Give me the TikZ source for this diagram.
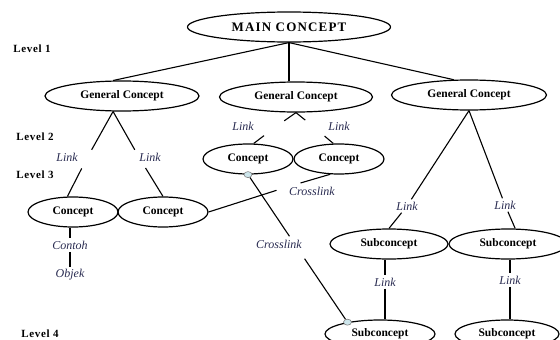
\documentclass[tikz,border=0pt]{standalone}
\usepackage{fontspec}
\setmainfont{Liberation Serif}
\usetikzlibrary{shapes.geometric}
\definecolor{linkblue}{RGB}{40,42,80}
\definecolor{dotblue}{RGB}{205,230,236}
\begin{document}
\begin{tikzpicture}[x=1pt,y=-1pt,line width=1.1pt,
  concept/.style={ellipse,draw,line width=1.2pt,inner sep=0pt,minimum height=30pt,
    font=\fontsize{11.5}{12}\selectfont\bfseries},
  lnk/.style={font=\fontsize{12}{12}\selectfont\itshape,text=linkblue,inner sep=2pt},
  gap/.style={circle,inner sep=0pt,minimum size=20pt},
  lvl/.style={font=\fontsize{11}{11}\selectfont\bfseries\addfontfeature{LetterSpace=6}},
  xdot/.style={ellipse,draw=gray,fill=dotblue,line width=.6pt,inner sep=0pt,
    minimum width=8pt,minimum height=6pt}]
\useasboundingbox (0,0) rectangle (560,340);

\node[concept,minimum width=203pt,
  font=\fontsize{13}{13}\selectfont\bfseries\addfontfeature{LetterSpace=9}] (main) at (289,27) {MAIN CONCEPT};
\node[concept,minimum width=154pt] (gc1) at (122,96) {General Concept};
\node[concept,minimum width=153pt] (gc2) at (296,97) {General Concept};
\node[concept,minimum width=155pt] (gc3) at (469,95) {General Concept};
\node[concept,minimum width=90pt] (c1) at (73,212) {Concept};
\node[concept,minimum width=90pt] (c2) at (163,212) {Concept};
\node[concept,minimum width=90pt] (cm1) at (248,159) {Concept};
\node[concept,minimum width=90pt] (cm2) at (339,159) {Concept};
\node[concept,minimum width=118pt] (sc1) at (389,244) {Subconcept};
\node[concept,minimum width=118pt] (sc2) at (508,244) {Subconcept};
\node[concept,minimum width=110pt,minimum height=28pt] (sb1) at (380,334) {Subconcept};
\node[concept,minimum width=104pt,minimum height=28pt] (sb2) at (507,334) {Subconcept};

\node[lvl] (lv1) at (32,49) {Level 1};
\node[lvl] (lv2) at (35,137) {Level 2};
\node[lvl] (lv3) at (35,175) {Level 3};
\node[lvl] (lv4) at (40,334) {Level 4};

\draw (main.south) -- (gc1.120);
\draw (main.south) -- (main.south |- gc2.north);
\draw (main.south) -- (gc3.135);

\node[gap] (g11) at (86.5,159) {};
\node[gap] (g12) at (140,159) {};
\node[lnk] (lk11) at (67,157) {Link};
\node[lnk] (lk12) at (150,157) {Link};
\draw (gc1.-120) -- (g11) -- (c1.110);
\draw (gc1.-120) -- (g12) -- (c2.north);

\node[gap,minimum size=24pt] (g21) at (274,128) {};
\node[gap,minimum size=24pt] (g22) at (315,128) {};
\node[lnk] (lk21) at (243,126) {Link};
\node[lnk] (lk22) at (339,126) {Link};
\draw (gc2.south) -- (g21) -- (cm1.70);
\draw (gc2.south) -- (g22) -- (cm2.110);

\node[lnk] (lk31) at (407,206) {Link};
\node[lnk] (lk32) at (505,205) {Link};
\draw (gc3.south) -- (lk31) -- (sc1.north);
\draw (gc3.south) -- (lk32) -- (sc2.65);

\node[lnk] (lk41) at (385,282) {Link};
\node[lnk] (lk42) at (510,280) {Link};
\draw (lk41 |- sc1.south) -- (lk41) -- (lk41 |- sb1.north);
\draw (lk42 |- sc2.south) -- (lk42) -- (lk42 |- sb2.north);

\node[lnk] (ct) at (70,245) {Contoh};
\node[lnk] (ob) at (70,275) {Objek};
\draw (ct |- c1.south) -- (ct) -- (ob);

% crosslinks
\node[gap,minimum size=24pt] (gx1) at (288.5,186.5) {};
\node[lnk] (cl1) at (312,191) {Crosslink};
\draw (c2.east) -- (gx1) -- (cm2.-120);

\node[gap,minimum size=26pt] (gx2) at (297,247.5) {};
\node[lnk] (cl2) at (279,244) {Crosslink};
\node[xdot] (d1) at (cm1.south) {};
\node[xdot] (d2) at (sb1.160) {};
\draw (d1) -- (gx2) -- (d2);
\end{tikzpicture}
\end{document}
